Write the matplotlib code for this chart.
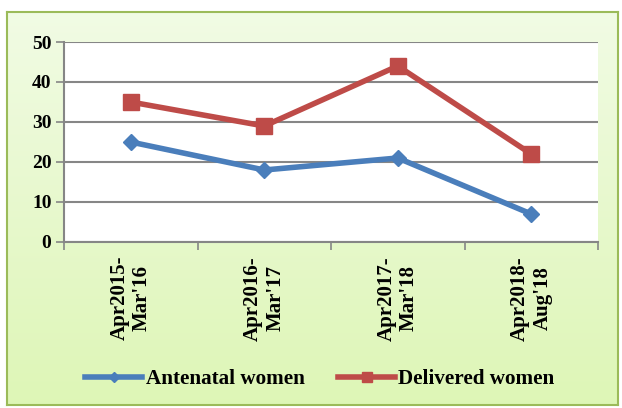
import matplotlib.pyplot as plt
import numpy as np

# Categories and values
periods = ["Apr2015-\nMar'16", "Apr2016-\nMar'17", "Apr2017-\nMar'18", "Apr2018-\nAug'18"]
antenatal_women = [25, 18, 21, 7]
delivered_women = [35, 29, 44, 22]
y_ticks = [0, 10, 20, 30, 40, 50]

plt.rcParams['font.family'] = ['Liberation Serif', 'DejaVu Serif']
plt.rcParams['font.weight'] = 'bold'

fig = plt.figure(figsize=(6.22, 4.08), dpi=100)
W, H = 622, 408

# green gradient background in the outer frame
bg = fig.add_axes([7 / W, 1 - 405 / H, 611 / W, 393 / H], zorder=0)
grad = np.linspace(0, 1, 256).reshape(-1, 1)
top = np.array([0.945, 0.985, 0.895])
bot = np.array([0.870, 0.965, 0.715])
img = top + (bot - top) * grad[..., None]
bg.imshow(img, aspect='auto', extent=[0, 1, 0, 1])
bg.set_xticks([])
bg.set_yticks([])
for s in bg.spines.values():
    s.set_color('#9bbb59')
    s.set_linewidth(1.5)

ax = fig.add_axes([64 / W, 1 - 242 / H, 534 / W, 200 / H], zorder=1)
ax.set_facecolor('white')
x = np.arange(len(periods))

ax.plot(x, antenatal_women, '-D', color='#4a7ebb', linewidth=4, markersize=8,
        label='Antenatal women')
ax.plot(x, delivered_women, '-s', color='#be4b48', linewidth=4, markersize=11,
        label='Delivered women')

ax.set_xlim(-0.5, len(periods) - 0.5)
ax.set_ylim(0, 50)
ax.set_yticks(y_ticks)
ax.set_yticklabels([str(v) for v in y_ticks], fontsize=14, fontweight='bold')
ax.yaxis.grid(True, color='#868686', linewidth=1.5)
ax.set_axisbelow(True)

ax.set_xticks(np.arange(-0.5, len(periods), 1))
ax.set_xticklabels([])
ax.set_xticks(x, minor=True)
ax.set_xticklabels(periods, minor=True, rotation=90, fontsize=15,
                   fontweight='bold', linespacing=1.15)
ax.tick_params(axis='x', which='minor', length=0, pad=10)
ax.tick_params(axis='x', which='major', length=6, color='#868686', width=1.2)
ax.tick_params(axis='y', length=6, color='#868686', width=1.2, pad=3)

for side in ['top', 'right']:
    ax.spines[side].set_visible(False)
for side in ['left', 'bottom']:
    ax.spines[side].set_color('#868686')
    ax.spines[side].set_linewidth(1.5)

leg = fig.legend(loc='center', bbox_to_anchor=(320 / W, 1 - 379 / H), ncol=2,
                 frameon=False, handlelength=2.7, handletextpad=0.15,
                 columnspacing=1.6, markerscale=0.7,
                 prop={'weight': 'bold', 'size': 15.2})

fig.savefig('out.png', dpi=100)
